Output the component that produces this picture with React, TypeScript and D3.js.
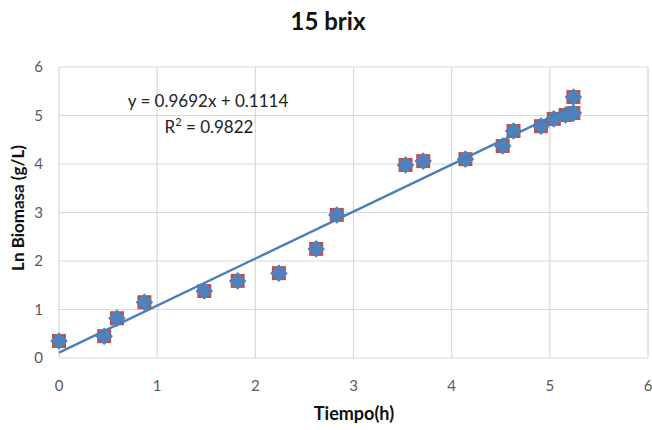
import React from "react";
import * as d3 from "d3";

const timeH = [0, 0.46, 0.59, 0.87, 1.48, 1.82, 2.24, 2.62, 2.83, 3.53, 3.71, 4.14, 4.52, 4.63, 4.91, 5.04, 5.16, 5.24, 5.24];
const lnBiomass = [0.35, 0.45, 0.82, 1.15, 1.38, 1.59, 1.75, 2.25, 2.95, 3.98, 4.06, 4.10, 4.37, 4.68, 4.78, 4.93, 5.01, 5.05, 5.38];
const xTicks = [0, 1, 2, 3, 4, 5, 6];
const yTicks = [0, 1, 2, 3, 4, 5, 6];
const slope = 0.9692;
const intercept = 0.1114;
const title = "15 brix";
const eqText = "y = 0.9692x + 0.1114";
const r2Value = "0.9822";

export default function App() {
  const W = 652, H = 430;
  const x = d3.scaleLinear().domain([0, 6]).range([59, 648]);
  const y = d3.scaleLinear().domain([0, 6]).range([358, 67]);
  const font = "Lato, 'Open Sans', sans-serif";
  const xMax = d3.max(timeH) as number;
  const trend = d3.line<number>().x((t) => x(t)).y((t) => y(slope * t + intercept));
  const s = 14;
  const dm = 8.8;
  return (
    <svg width={W} height={H} style={{ position: "absolute", left: 0, top: 0, background: "#fff" }}>
      <rect width={W} height={H} fill="#fff" />
      <text x={328} y={30} textAnchor="middle" fontFamily={font} fontWeight="bold" fontSize={24} fill="#111">{title}</text>
      {yTicks.map((t) => (
        <g key={"y" + t}>
          <line x1={x(0)} x2={x(6)} y1={y(t)} y2={y(t)} stroke="#d9d9d9" strokeWidth={1.2} />
          <text x={43} y={y(t) + 5} textAnchor="end" fontFamily={font} fontSize={15} fill="#595959">{t}</text>
        </g>
      ))}
      {xTicks.map((t) => (
        <g key={"x" + t}>
          <line x1={x(t)} x2={x(t)} y1={y(0)} y2={y(6)} stroke="#d9d9d9" strokeWidth={1.2} />
          <text x={x(t)} y={391} textAnchor="middle" fontFamily={font} fontSize={15} fill="#595959">{t}</text>
        </g>
      ))}
      <text transform={`translate(24,208) rotate(-90)`} textAnchor="middle" fontFamily={font} fontWeight="bold" fontSize={17} fill="#111">Ln Biomasa (g/L)</text>
      <text x={354} y={420} textAnchor="middle" fontFamily={font} fontWeight="bold" fontSize={18} fill="#111">Tiempo(h)</text>
      {timeH.map((t, i) => (
        <rect key={"s" + i} x={x(t) - s / 2} y={y(lnBiomass[i]) - s / 2} width={s} height={s} fill="#c0504d" />
      ))}
      {timeH.map((t, i) => {
        const cx = x(t), cy = y(lnBiomass[i]);
        return (
          <path key={"d" + i} d={`M${cx},${cy - dm}L${cx + dm},${cy}L${cx},${cy + dm}L${cx - dm},${cy}Z`} fill="#4f81bd" />
        );
      })}
      <path d={trend([0, xMax]) || ""} fill="none" stroke="#4a7ebb" strokeWidth={2.4} />
      <text x={208} y={107} textAnchor="middle" fontFamily={font} fontSize={17} fill="#222">{eqText}</text>
      <text x={209} y={133} textAnchor="middle" fontFamily={font} fontSize={17} fill="#222">
        R<tspan dy={-7} fontSize={11}>2</tspan><tspan dy={7}> = {r2Value}</tspan>
      </text>
    </svg>
  );
}
